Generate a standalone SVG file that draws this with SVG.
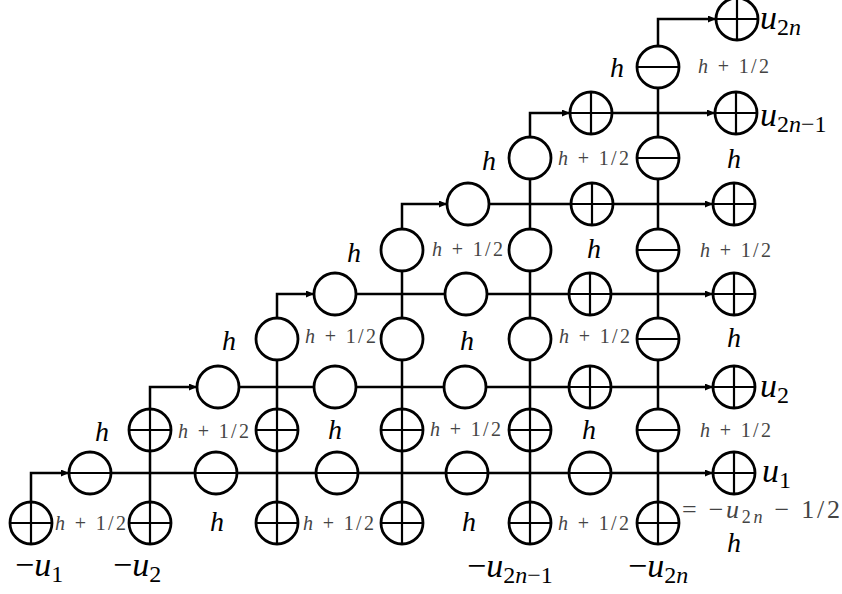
<svg xmlns="http://www.w3.org/2000/svg" xmlns:xlink="http://www.w3.org/1999/xlink" width="842" height="594" viewBox="0 0 842 594">
<style>
.c{fill:none;stroke:#000;stroke-width:2.5}
.ring{fill:#fff;stroke:#000;stroke-width:2.8}
.bar{stroke:#000;stroke-width:2.2}
.h{font-style:italic;font-size:28px;fill:#000}
.hh{font-size:20px;fill:#444}
.u{font-size:34px;fill:#000}
.i{font-style:italic}
.s{font-size:24px}
</style>
<defs>
<marker id="ah" markerUnits="userSpaceOnUse" markerWidth="9" markerHeight="8" refX="8" refY="3.5" orient="auto">
<path d="M0,0 L8,3.5 L0,7 z" fill="#000"/>
</marker>
<g id="op"><circle class="ring" r="21"/><line class="bar" x1="-21" y1="0" x2="21" y2="0"/><line class="bar" x1="0" y1="-21" x2="0" y2="21"/></g>
<g id="om"><circle class="ring" r="21"/><line class="bar" x1="-21" y1="0" x2="21" y2="0"/></g>
<g id="oe"><circle class="ring" r="21"/></g>
</defs>
<rect width="842" height="594" fill="#fff"/>
<g id="connectors">
<path class="c" d="M31,502 V473 H69" marker-end="url(#ah)"/>
<path class="c" d="M90,473 H713" marker-end="url(#ah)"/>
<path class="c" d="M150,544 V387 H197" marker-end="url(#ah)"/>
<path class="c" d="M218,387 H713" marker-end="url(#ah)"/>
<path class="c" d="M277,544 V294 H314" marker-end="url(#ah)"/>
<path class="c" d="M335,294 H713" marker-end="url(#ah)"/>
<path class="c" d="M402,544 V204 H447" marker-end="url(#ah)"/>
<path class="c" d="M468,204 H713" marker-end="url(#ah)"/>
<path class="c" d="M530,544 V113 H570" marker-end="url(#ah)"/>
<path class="c" d="M591,113 H715" marker-end="url(#ah)"/>
<path class="c" d="M658,544 V19 H716" marker-end="url(#ah)"/>
</g>
<g id="n_c30_A"><use href="#op" x="31" y="523"/></g>
<g id="n_c150_A"><use href="#op" x="150" y="523"/></g>
<g id="n_c150_B"><use href="#op" x="150" y="430"/></g>
<g id="n_c277_A"><use href="#op" x="277" y="523"/></g>
<g id="n_c277_B"><use href="#op" x="277" y="430"/></g>
<g id="n_c277_C"><use href="#oe" x="277" y="339"/></g>
<g id="n_c402_A"><use href="#op" x="402" y="523"/></g>
<g id="n_c402_B"><use href="#op" x="402" y="430"/></g>
<g id="n_c402_C"><use href="#oe" x="402" y="339"/></g>
<g id="n_c402_D"><use href="#oe" x="402" y="250"/></g>
<g id="n_c530_A"><use href="#op" x="530" y="523"/></g>
<g id="n_c530_B"><use href="#op" x="530" y="430"/></g>
<g id="n_c530_C"><use href="#oe" x="530" y="339"/></g>
<g id="n_c530_D"><use href="#oe" x="530" y="250"/></g>
<g id="n_c530_E"><use href="#oe" x="530" y="158"/></g>
<g id="n_c658_A"><use href="#op" x="658" y="523"/></g>
<g id="n_c658_B"><use href="#om" x="658" y="430"/></g>
<g id="n_c658_C"><use href="#om" x="658" y="339"/></g>
<g id="n_c658_D"><use href="#om" x="658" y="250"/></g>
<g id="n_c658_E"><use href="#om" x="658" y="158"/></g>
<g id="n_c658_F"><use href="#om" x="658" y="67"/></g>
<g id="n_l1_1"><use href="#om" x="90" y="473"/></g>
<g id="n_l1_2"><use href="#om" x="216" y="473"/></g>
<g id="n_l1_3"><use href="#om" x="337" y="473"/></g>
<g id="n_l1_4"><use href="#om" x="467" y="473"/></g>
<g id="n_l1_5"><use href="#om" x="590" y="473"/></g>
<g id="n_l1_out"><use href="#op" x="734" y="473"/></g>
<g id="n_l2_1"><use href="#oe" x="218" y="387"/></g>
<g id="n_l2_2"><use href="#oe" x="335" y="387"/></g>
<g id="n_l2_3"><use href="#oe" x="465" y="387"/></g>
<g id="n_l2_4"><use href="#op" x="590" y="387"/></g>
<g id="n_l2_out"><use href="#op" x="734" y="387"/></g>
<g id="n_l3_1"><use href="#oe" x="335" y="294"/></g>
<g id="n_l3_2"><use href="#oe" x="466" y="294"/></g>
<g id="n_l3_3"><use href="#op" x="590" y="294"/></g>
<g id="n_l3_out"><use href="#op" x="734" y="294"/></g>
<g id="n_l4_1"><use href="#oe" x="468" y="204"/></g>
<g id="n_l4_2"><use href="#op" x="592" y="204"/></g>
<g id="n_l4_out"><use href="#op" x="734" y="204"/></g>
<g id="n_l5_1"><use href="#op" x="591" y="113"/></g>
<g id="n_l5_out"><use href="#op" x="736" y="113"/></g>
<g id="n_l6_out"><use href="#op" x="737" y="19"/></g>
<g id="labels" font-family="Liberation Serif, DejaVu Serif, serif">
<text class="hh" x="55" y="530" textLength="71"><tspan class="i">h</tspan> + 1/2</text>
<text class="h" x="210" y="531">h</text>
<text class="hh" x="303" y="530" textLength="71"><tspan class="i">h</tspan> + 1/2</text>
<text class="h" x="462" y="531">h</text>
<text class="hh" x="558" y="530" textLength="71"><tspan class="i">h</tspan> + 1/2</text>
<text class="h" x="95" y="441">h</text>
<text class="hh" x="178" y="438" textLength="71"><tspan class="i">h</tspan> + 1/2</text>
<text class="h" x="328" y="439">h</text>
<text class="hh" x="430" y="436" textLength="71"><tspan class="i">h</tspan> + 1/2</text>
<text class="h" x="582" y="439">h</text>
<text class="hh" x="700" y="437" textLength="71"><tspan class="i">h</tspan> + 1/2</text>
<text class="h" x="222" y="350">h</text>
<text class="hh" x="305" y="343" textLength="71"><tspan class="i">h</tspan> + 1/2</text>
<text class="h" x="460" y="350">h</text>
<text class="hh" x="559" y="343" textLength="71"><tspan class="i">h</tspan> + 1/2</text>
<text class="h" x="727" y="347">h</text>
<text class="h" x="347" y="262">h</text>
<text class="hh" x="432" y="256" textLength="71"><tspan class="i">h</tspan> + 1/2</text>
<text class="h" x="587" y="258">h</text>
<text class="hh" x="700" y="257" textLength="71"><tspan class="i">h</tspan> + 1/2</text>
<text class="h" x="482" y="170">h</text>
<text class="hh" x="558" y="165" textLength="71"><tspan class="i">h</tspan> + 1/2</text>
<text class="h" x="727" y="168">h</text>
<text class="h" x="610" y="77">h</text>
<text class="hh" x="698" y="73" textLength="71"><tspan class="i">h</tspan> + 1/2</text>
<text class="u" x="760" y="29"><tspan class="i">u</tspan><tspan class="s" dy="6">2</tspan><tspan class="s i">n</tspan></text>
<text class="u" x="760" y="126"><tspan class="i">u</tspan><tspan class="s" dy="6">2</tspan><tspan class="s i">n</tspan><tspan class="s">−1</tspan></text>
<text class="u" x="760" y="397"><tspan class="i">u</tspan><tspan class="s" dy="6">2</tspan></text>
<text class="u" x="762" y="482"><tspan class="i">u</tspan><tspan class="s" dy="6">1</tspan></text>
<text class="u" x="682" y="518" style="font-size:26px;fill:#444" textLength="158">= −<tspan class="i">u</tspan><tspan dy="5" style="font-size:18px">2</tspan><tspan class="i" style="font-size:18px">n</tspan><tspan dy="-5"> − 1/2</tspan></text>
<text class="h" x="727" y="552">h</text>
<text class="u" x="15" y="576">−<tspan class="i">u</tspan><tspan class="s" dy="6">1</tspan></text>
<text class="u" x="113" y="576">−<tspan class="i">u</tspan><tspan class="s" dy="6">2</tspan></text>
<text class="u" x="467" y="577">−<tspan class="i">u</tspan><tspan class="s" dy="6">2</tspan><tspan class="s i">n</tspan><tspan class="s">−1</tspan></text>
<text class="u" x="628" y="577">−<tspan class="i">u</tspan><tspan class="s" dy="6">2</tspan><tspan class="s i">n</tspan></text>
</g>
</svg>
